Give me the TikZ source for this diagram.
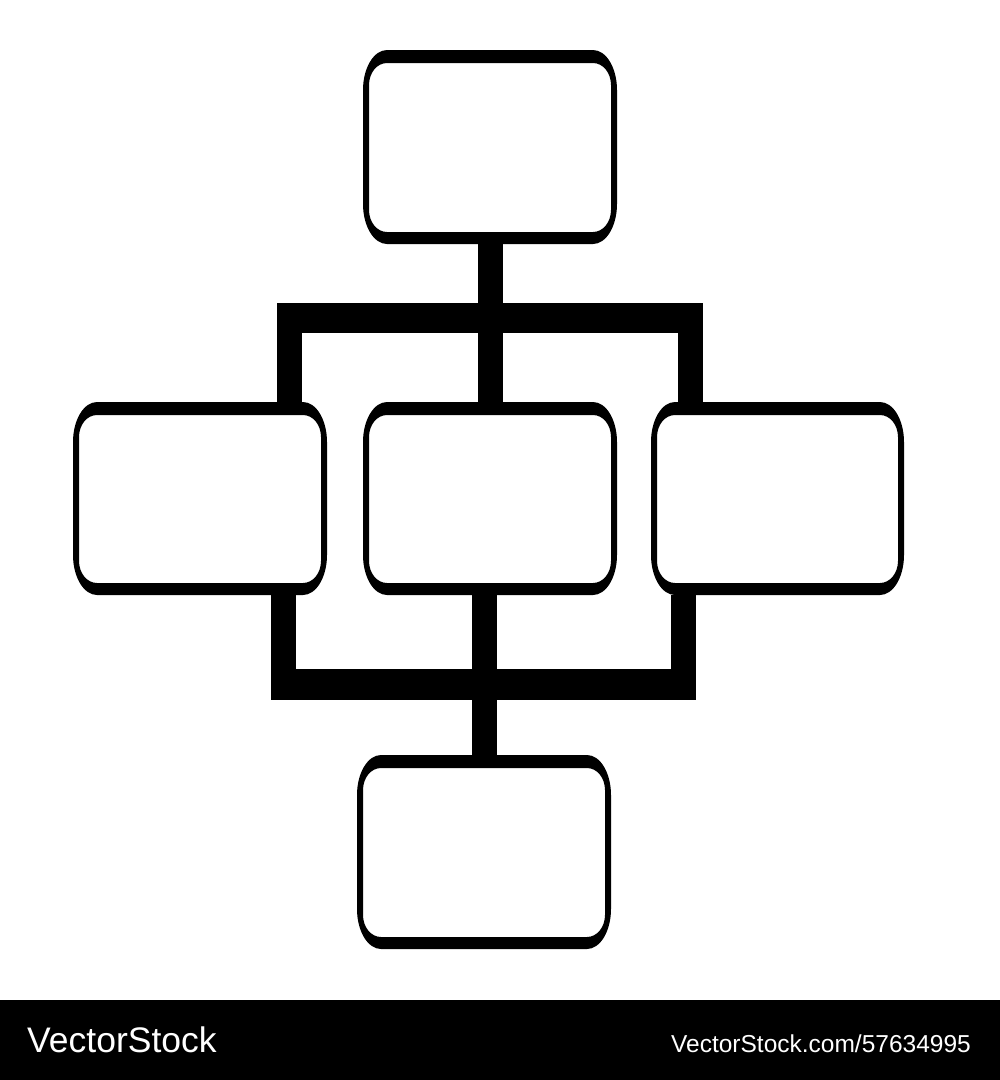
\documentclass[tikz,border=0pt]{standalone}
\usepackage{fontspec}
\newfontfamily\wmfont{Liberation Sans}
\tikzset{
  boxnode/.style={draw=none,inner sep=0pt,outer sep=0pt,minimum width=254pt,minimum height=194pt},
  vconn/.style={line width=25pt,line cap=butt},
  hconn/.style={line width=30pt,line cap=butt},
  wmtext/.style={text=white,inner sep=0pt,font=\wmfont}
}
\newcommand\ringbox[1]{%
  \fill[black,even odd rule]
    ([xshift=24pt]#1.north west) -- ([xshift=-24pt]#1.north east)
    arc[start angle=90,end angle=0,x radius=24pt,y radius=40pt]
    -- ([yshift=40pt]#1.south east)
    arc[start angle=0,end angle=-90,x radius=24pt,y radius=40pt]
    -- ([xshift=24pt]#1.south west)
    arc[start angle=270,end angle=180,x radius=24pt,y radius=40pt]
    -- ([yshift=-40pt]#1.north west)
    arc[start angle=180,end angle=90,x radius=24pt,y radius=40pt] -- cycle
    ([xshift=24pt,yshift=-13pt]#1.north west) -- ([xshift=-24pt,yshift=-13pt]#1.north east)
    arc[start angle=90,end angle=0,x radius=18pt,y radius=22pt]
    -- ([xshift=-6pt,yshift=34pt]#1.south east)
    arc[start angle=0,end angle=-90,x radius=18pt,y radius=22pt]
    -- ([xshift=24pt,yshift=12pt]#1.south west)
    arc[start angle=270,end angle=180,x radius=18pt,y radius=22pt]
    -- ([xshift=6pt,yshift=-35pt]#1.north west)
    arc[start angle=180,end angle=90,x radius=18pt,y radius=22pt] -- cycle;%
}
\begin{document}
\begin{tikzpicture}[x=1pt,y=-1pt]
  \useasboundingbox (0,0) rectangle (1000,1080);
  \fill[white] (0,0) rectangle (1000,1080);
  % boxes (named nodes)
  \node[boxnode] (top) at (490,147) {};
  \node[boxnode,minimum height=193pt] (left) at (200,498.5) {};
  \node[boxnode,minimum height=193pt] (mid) at (490,498.5) {};
  \node[boxnode,minimum height=193pt,minimum width=253pt] (right) at (777.5,498.5) {};
  \node[boxnode] (bot) at (484,852) {};
  % upper bus
  \coordinate (ubL) at (289.5,318);
  \coordinate (ubM) at (490.5,318);
  \coordinate (ubR) at (690,318);
  \draw[vconn] (top.south -| ubM) -- (ubM);
  \draw[hconn] ([xshift=-12.5pt]ubL) -- ([xshift=12.5pt]ubR);
  \draw[vconn] (ubL) -- (ubL |- left.north);
  \draw[vconn] (ubM) -- (ubM |- mid.north);
  \draw[vconn] (ubR) -- (ubR |- right.north);
  % lower bus
  \coordinate (lbL) at (283.5,684.5);
  \coordinate (lbM) at (484.5,684.5);
  \coordinate (lbR) at (683.5,684.5);
  \draw[vconn] (left.south -| lbL) -- (lbL);
  \draw[vconn] (mid.south -| lbM) -- (lbM);
  \draw[vconn] (right.south -| lbR) -- (lbR);
  \draw[hconn,line width=31pt] ([xshift=-12.5pt]lbL) -- ([xshift=12.5pt]lbR);
  \draw[vconn] (lbM) -- (lbM |- bot.north);
  % box rings
  \ringbox{top}
  \ringbox{left}
  \ringbox{mid}
  \ringbox{right}
  \ringbox{bot}
  % footer
  \fill[black] (0,1000) rectangle (1000,1080);
  \node[wmtext,anchor=base west,font=\wmfont\fontsize{35.5pt}{40pt}\selectfont] (wm1) at (27,1052) {VectorStock};
  \node[wmtext,anchor=base east,font=\wmfont\fontsize{24.5pt}{28pt}\selectfont] (wm2) at (971,1052) {VectorStock.com/57634995};
\end{tikzpicture}
\end{document}
